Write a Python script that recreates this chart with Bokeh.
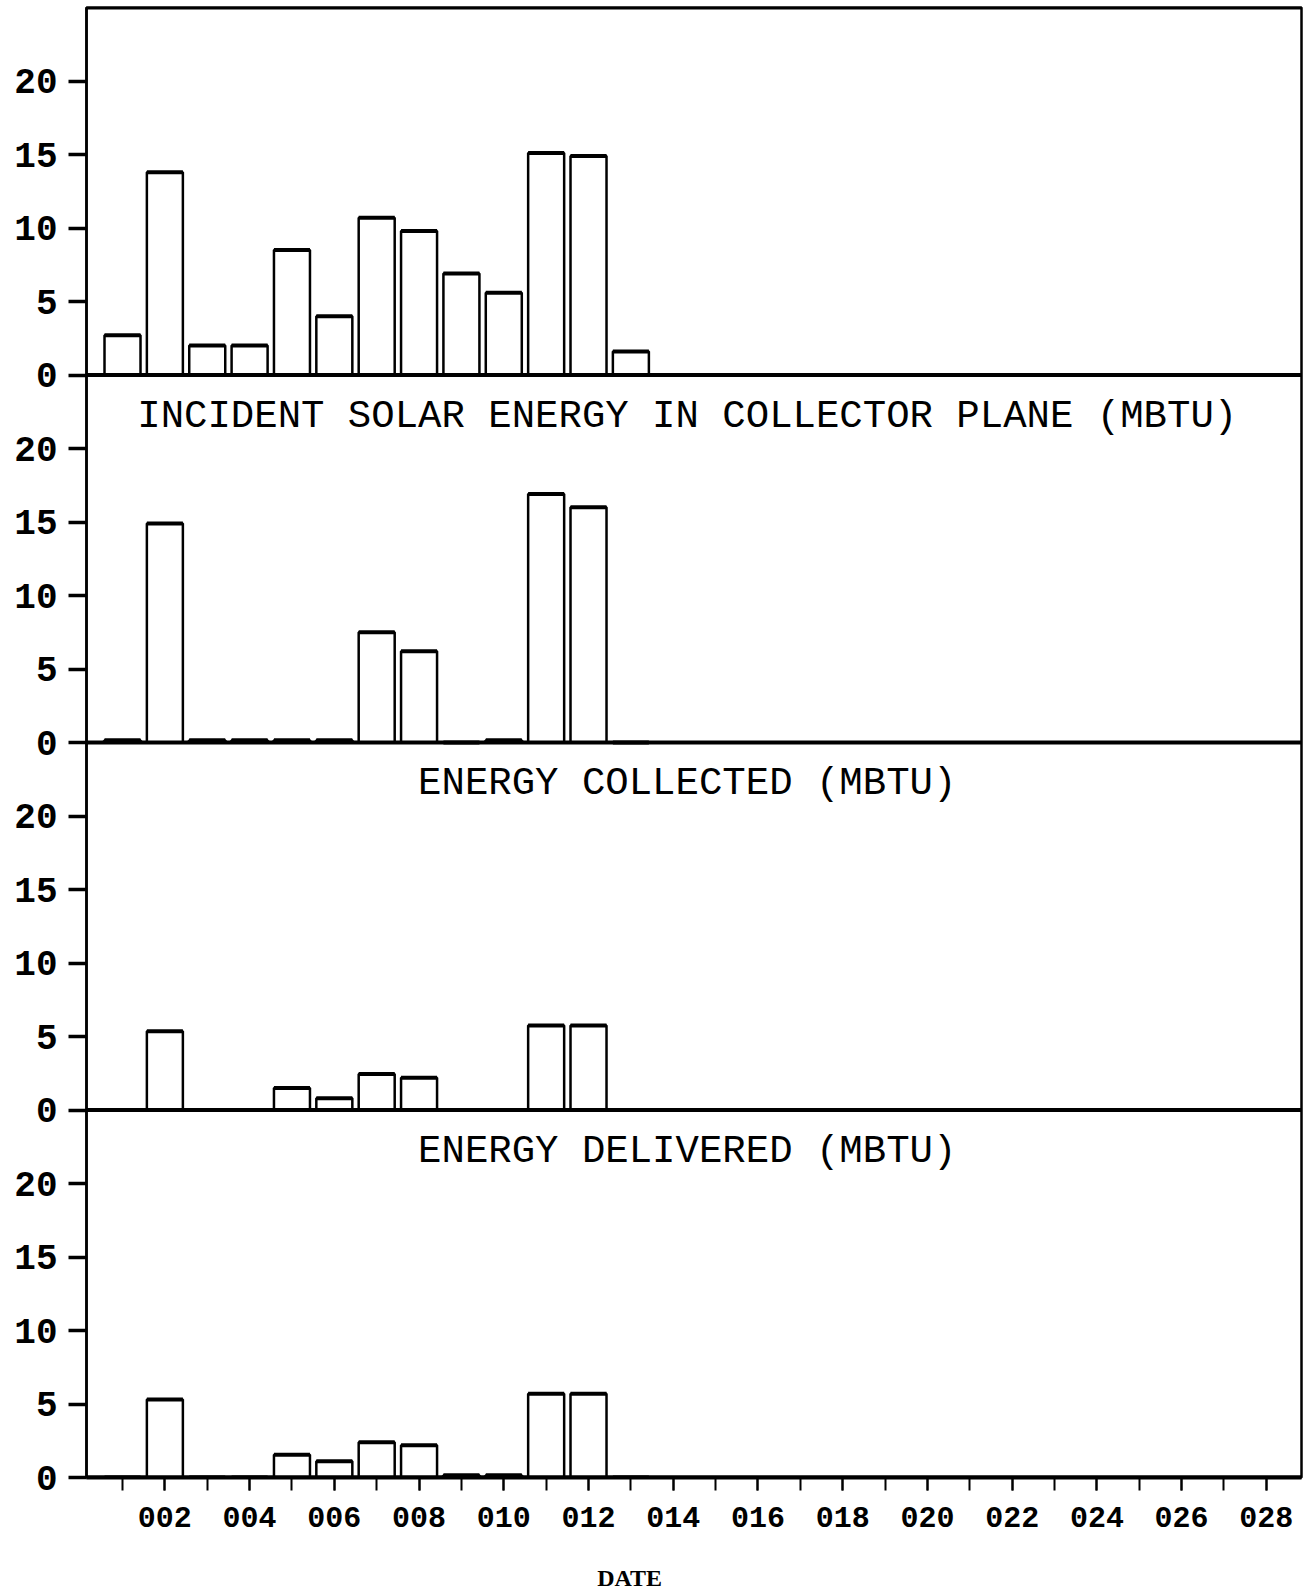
from bokeh.plotting import figure
from bokeh.layouts import column
from bokeh.models import Range1d, FixedTicker, Span, Label, PrintfTickFormatter
from bokeh.embed import file_html
from bokeh.resources import INLINE

# Daily totals (MBTU) for days 001-013; later days of the month have no data.
days = list(range(1, 14))
top_panel = [2.7, 13.8, 2.0, 2.0, 8.5, 4.0, 10.7, 9.8, 6.9, 5.6, 15.1, 14.9, 1.6]
incident = [0.15, 14.9, 0.15, 0.15, 0.15, 0.15, 7.5, 6.2, 0.0, 0.15, 16.9, 16.0, 0.0]
collected = [0.0, 5.35, 0.0, 0.0, 1.5, 0.8, 2.45, 2.2, 0.0, 0.0, 5.75, 5.75, 0.0]
delivered = [0.0, 5.3, 0.0, 0.0, 1.55, 1.1, 2.4, 2.2, 0.15, 0.15, 5.7, 5.7, 0.0]

panel_series = [top_panel, incident, collected, delivered]
panel_titles = [
    None,
    "INCIDENT SOLAR ENERGY IN COLLECTOR PLANE (MBTU)",
    "ENERGY COLLECTED (MBTU)",
    "ENERGY DELIVERED (MBTU)",
]

date_labels = list(range(2, 29, 2))   # labelled ticks 002 ... 028
date_ticks = list(range(1, 29))       # one tick per day
value_ticks = [0, 5, 10, 15, 20]
PANEL_SPAN = 25                       # each strip covers 0..25 MBTU
N_PANELS = len(panel_series)

BAR_WIDTH = 0.85
MONO = "Liberation Mono"

x_range = Range1d(0.15, 28.83)

p = figure(
    width=1307, height=1552,
    x_range=x_range,
    y_range=Range1d(0, PANEL_SPAN * N_PANELS),
    output_backend="svg", toolbar_location=None,
    min_border_left=86, min_border_right=6,
    min_border_top=7, min_border_bottom=75,
)
p.background_fill_color = "white"
p.border_fill_color = "white"
p.grid.visible = False
p.outline_line_color = "black"
p.outline_line_width = 2.5

# One y-range per strip, stacked top to bottom, each with its own zero line.
for k in range(N_PANELS):
    name = f"strip{k}"
    p.extra_y_ranges[name] = Range1d(
        start=-PANEL_SPAN * (N_PANELS - 1 - k), end=PANEL_SPAN * (k + 1)
    )

# Left axis: 0-20 repeated for every strip.
ticks, overrides = [], {}
for k in range(N_PANELS):
    for v in value_ticks:
        t = PANEL_SPAN * k + v
        ticks.append(t)
        overrides[t] = str(v)
yax = p.yaxis[0]
yax.ticker = FixedTicker(ticks=ticks, minor_ticks=[])
yax.major_label_overrides = overrides
yax.axis_line_width = 2.5
yax.major_tick_line_width = 3.5
yax.major_tick_out = 18
yax.major_tick_in = 0
yax.minor_tick_out = 0
yax.major_label_standoff = 11
yax.major_label_text_font = MONO
yax.major_label_text_font_size = "36px"
yax.major_label_text_font_style = "bold"
yax.major_label_text_color = "black"

# Bottom axis: day numbers.
xax = p.xaxis[0]
xax.ticker = FixedTicker(ticks=date_labels, minor_ticks=date_ticks)
xax.formatter = PrintfTickFormatter(format="%03d")
xax.axis_line_width = 4
xax.major_tick_line_width = 2
xax.minor_tick_line_width = 2
xax.major_tick_out = 13
xax.minor_tick_out = 13
xax.major_tick_in = 0
xax.minor_tick_in = 0
xax.major_label_standoff = 16
xax.major_label_text_font = MONO
xax.major_label_text_font_size = "30px"
xax.major_label_text_font_style = "bold"
xax.major_label_text_color = "black"

# Heavy top border of the plotting box.
p.add_layout(Span(location=PANEL_SPAN * N_PANELS, dimension="width",
                  line_color="black", line_width=4))

for k, (values, title) in enumerate(zip(panel_series, panel_titles)):
    name = f"strip{k}"
    p.add_layout(Span(location=0, dimension="width", y_range_name=name,
                      line_color="black", line_width=4))
    p.vbar(x=days, top=values, bottom=0, width=BAR_WIDTH, y_range_name=name,
           fill_color="white", line_color="black", line_width=2.5)
    p.segment(x0=[d - BAR_WIDTH / 2 for d in days], x1=[d + BAR_WIDTH / 2 for d in days],
              y0=values, y1=values, y_range_name=name,
              line_color="black", line_width=4)
    if title:
        p.add_layout(Label(x=14.33, y=22.15, y_range_name=name, text=title,
                           text_font=MONO, text_font_size="39px",
                           text_align="center", text_baseline="middle",
                           text_color="black"))

# Caption strip under the day axis, sharing the day scale.
cap = figure(
    width=1307, height=40,
    x_range=x_range, y_range=Range1d(0, 1),
    output_backend="svg", toolbar_location=None,
    x_axis_location=None, y_axis_location=None,
    min_border_left=86, min_border_right=6,
    min_border_top=0, min_border_bottom=0,
)
cap.grid.visible = False
cap.outline_line_color = None
cap.background_fill_color = "white"
cap.border_fill_color = "white"
cap.add_layout(Label(x=12.97, y=0.36, text="DATE",
                     text_font="Liberation Serif", text_font_size="24px",
                     text_font_style="bold",
                     text_align="center", text_baseline="middle",
                     text_color="black"))

layout = column(p, cap, spacing=0)
open("out.html", "w").write(file_html(layout, INLINE))
